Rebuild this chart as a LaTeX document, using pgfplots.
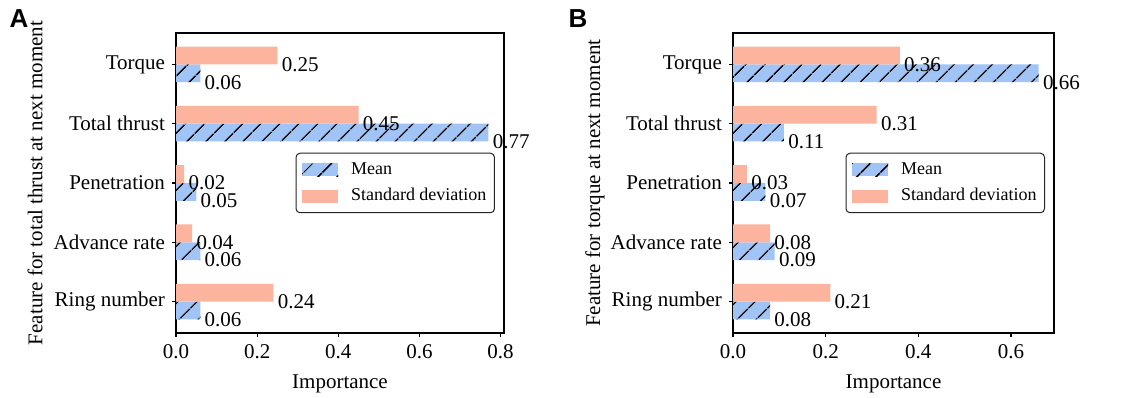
\documentclass[border=0pt]{standalone}
\usepackage{fontspec}
\setmainfont{Liberation Serif}
\newfontfamily\panelfont{Liberation Sans}
\usepackage{pgfplots}
\pgfplotsset{compat=1.18}
\usetikzlibrary{patterns.meta}

\definecolor{meanblue}{RGB}{160,196,245}
\definecolor{sdsalmon}{RGB}{252,180,158}

\tikzset{
  meanbar/.style={fill=meanblue, draw=none,
    postaction={pattern={Lines[angle=45,distance=6.8bp,line width=0.9bp]}, pattern color=black}},
  sdbar/.style={fill=sdsalmon, draw=none},
}

\pgfplotsset{
  featurebars/.style={
    xbar, scale only axis, height=150bp,
    ymin=-0.53, ymax=4.53, xmin=0,
    bar width=0.3, clip=false,
    ytick={0,1,2,3,4},
    yticklabels={Ring number,Advance rate,Penetration,Total thrust,Torque},
    tick align=outside, xtick pos=bottom, ytick pos=left,
    major tick length=2bp,
    axis line style={line width=0.6bp},
    tick style={line width=0.6bp, black},
    /pgf/number format/assume math mode=true,
    xticklabel={\pgfmathprintnumber[fixed,zerofill,precision=1]{\tick}},
    xlabel={Importance},
    xlabel style={at={(axis description cs:0.5,-0.168)}, anchor=center},
    ylabel style={at={(axis description cs:-0.43,0.5)}, anchor=center},
    nodes near coords, point meta=explicit symbolic,
    every node near coord/.append style={anchor=west, inner sep=0pt,
      xshift=2bp, yshift=-4.45bp, black},
    legend cell align=left,
    legend style={at={(1,0.5)}, anchor=east, xshift=-4.5bp,
      font=\fontsize{9bp}{10.8bp}\selectfont,
      draw=black!85, rounded corners=2bp, line width=0.5bp,
      inner xsep=3bp, inner ysep=3bp, row sep=2.75bp,
      nodes={inner sep=1bp, text height=6.5bp, text depth=2bp},
      /tikz/every odd column/.append style={column sep=5.5bp}},
  },
  meanleg/.style={legend image code/.code={\fill[meanbar, sharp corners] (0bp,-3.25bp) rectangle (18bp,3.25bp);}},
  sdleg/.style={legend image code/.code={\fill[sdbar, sharp corners] (0bp,-3.25bp) rectangle (18bp,3.25bp);}},
}

\begin{document}
\begin{tikzpicture}[font=\fontsize{10.5bp}{12.6bp}\selectfont]

% Panel A: features for total thrust
\begin{axis}[featurebars, at={(88bp,32.5bp)}, anchor=south west,
  width=164bp, xmax=0.8085, xtick={0,0.2,0.4,0.6,0.8},
  ylabel={Feature for total thrust at next moment}]
\addplot[meanbar, bar shift=-0.15, meanleg] coordinates {
  (0.06,0) [0.06] (0.06,1) [0.06] (0.05,2) [0.05] (0.77,3) [0.77] (0.06,4) [0.06]};
\addplot[sdbar, bar shift=0.15, sdleg] coordinates {
  (0.24,0) [0.24] (0.04,1) [0.04] (0.02,2) [0.02] (0.45,3) [0.45] (0.25,4) [0.25]};
\legend{Mean, Standard deviation}
\end{axis}

% Panel B: features for torque
\begin{axis}[featurebars, at={(366.5bp,32.5bp)}, anchor=south west,
  width=160.5bp, xmax=0.693, xtick={0,0.2,0.4,0.6},
  ylabel={Feature for torque at next moment}]
\addplot[meanbar, bar shift=-0.15, meanleg] coordinates {
  (0.08,0) [0.08] (0.09,1) [0.09] (0.07,2) [0.07] (0.11,3) [0.11] (0.66,4) [0.66]};
\addplot[sdbar, bar shift=0.15, sdleg] coordinates {
  (0.21,0) [0.21] (0.08,1) [0.08] (0.03,2) [0.03] (0.31,3) [0.31] (0.36,4) [0.36]};
\legend{Mean, Standard deviation}
\end{axis}

\node[font={\fontsize{13bp}{15bp}\panelfont\bfseries}] at (9.5bp,189.5bp) {A};
\node[font={\fontsize{13bp}{15bp}\panelfont\bfseries}] at (289bp,189.5bp) {B};

\pgfresetboundingbox
\path[use as bounding box] (0,0) rectangle (565bp,199bp);
\end{tikzpicture}
\end{document}
